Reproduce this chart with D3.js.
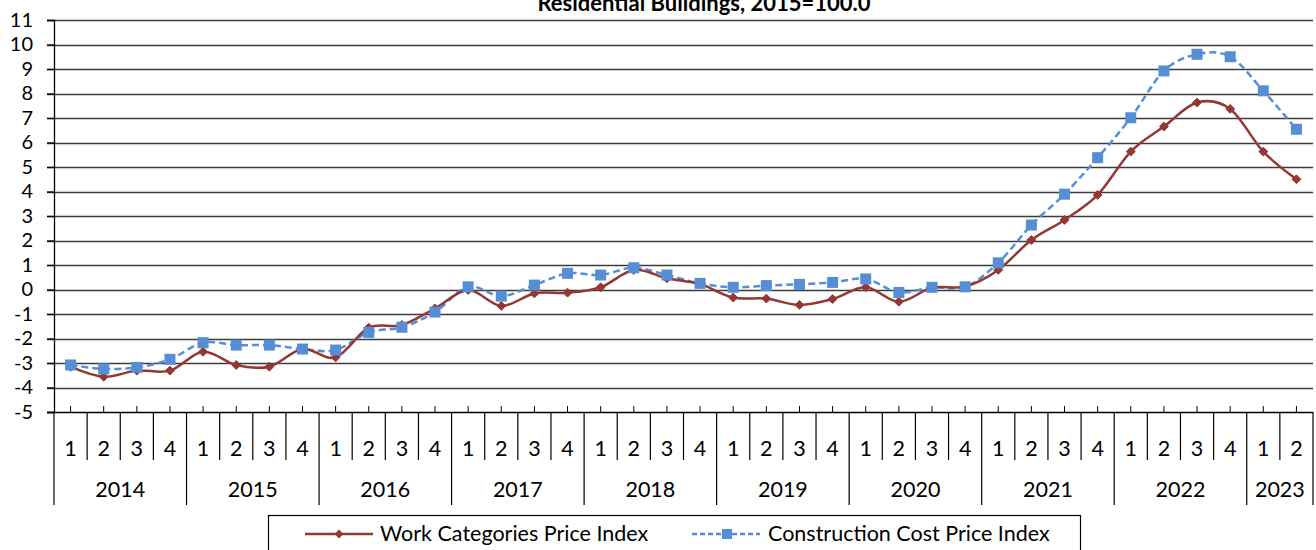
<head><meta charset="utf-8"></head>
<body style="margin:0;background:#fff">
<svg width="1316" height="550"></svg>
<script src="https://d3js.org/d3.v7.min.js"></script>
<script>
    // quarters 2014 Q1 .. 2023 Q2
    const years = ["2014", "2015", "2016", "2017", "2018", "2019", "2020", "2021", "2022", "2023"];
    const quartersPerYear = [4, 4, 4, 4, 4, 4, 4, 4, 4, 2];
    const workIndex = [-3.15, -3.56, -3.31, -3.31, -2.54, -3.08, -3.15, -2.43, -2.77, -1.56, -1.45, -0.77,
        -0.02, -0.67, -0.16, -0.13, 0.09, 0.80, 0.46, 0.22, -0.33, -0.37, -0.63, -0.39,
        0.09, -0.50, 0.07, 0.12, 0.80, 2.02, 2.84, 3.86, 5.63, 6.65, 7.63, 7.37, 5.63, 4.50];
    const costIndex = [-3.08, -3.24, -3.18, -2.85, -2.17, -2.27, -2.27, -2.43, -2.47, -1.75, -1.54, -0.92,
        0.11, -0.27, 0.18, 0.66, 0.59, 0.89, 0.59, 0.25, 0.09, 0.16, 0.21, 0.29,
        0.43, -0.12, 0.09, 0.11, 1.09, 2.63, 3.89, 5.38, 7.01, 8.92, 9.60, 9.50, 8.11, 6.54];
    const yTicks = d3.range(-5, 12);

    const font = "Lato, 'Liberation Sans', sans-serif";
    const fs = 21.5;
    const svg = d3.select("svg").style("font-family", font);
    const mLeft = 54, mRight = 1313, mTop = 20, mBottom = 412;

    // category list
    const cats = [];
    years.forEach((yr, yi) => {
        for (let q = 1; q <= quartersPerYear[yi]; q++) cats.push({ year: yr, q: q });
    });

    const x = d3.scaleBand().domain(d3.range(cats.length)).range([mLeft, mRight]);
    const y = d3.scaleLinear().domain([-5, 11]).range([mBottom, mTop]);

    // title (top line cut off like the original)
    svg.append("text")
        .attr("x", 704).attr("y", 11)
        .attr("text-anchor", "middle")
        .attr("font-weight", "bold")
        .attr("font-size", 22)
        .text("Residential Buildings, 2015=100.0");

    // grid lines
    svg.append("g").selectAll("line")
        .data(yTicks.filter(d => d > -5))
        .enter().append("line")
        .attr("x1", mLeft - 7).attr("x2", mRight)
        .attr("y1", d => Math.round(y(d)) + 0.5).attr("y2", d => Math.round(y(d)) + 0.5)
        .attr("stroke", "#3c3c3c").attr("stroke-width", 1.3);

    // y axis
    const yAxis = svg.append("g")
        .attr("transform", `translate(${mLeft},0)`)
        .call(d3.axisLeft(y).tickValues(yTicks).tickSize(7).tickPadding(14).tickFormat(d => String(d)));
    yAxis.select(".domain").attr("stroke", "#000").attr("stroke-width", 1.3);
    yAxis.selectAll(".tick line").attr("stroke", "#000").attr("stroke-width", 1.3);
    yAxis.selectAll("text").attr("font-size", 20).attr("font-family", font).attr("fill", "#000");

    // x axis line and category ticks
    const xa = svg.append("g");
    xa.append("line").attr("x1", mLeft - 7).attr("x2", mRight)
        .attr("y1", mBottom + 0.5).attr("y2", mBottom + 0.5)
        .attr("stroke", "#000").attr("stroke-width", 1.3);
    xa.selectAll(".ctick").data(cats).enter().append("line")
        .attr("x1", (d, i) => x(i) + x.bandwidth() / 2).attr("x2", (d, i) => x(i) + x.bandwidth() / 2)
        .attr("y1", mBottom - 6).attr("y2", mBottom)
        .attr("stroke", "#000").attr("stroke-width", 1);
    // quarter and year separators
    const starts = [];
    let acc = 0;
    quartersPerYear.forEach(n => { starts.push(acc); acc += n; });
    xa.selectAll(".qsep").data(d3.range(cats.length + 1)).enter().append("line")
        .attr("x1", i => i < cats.length ? x(i) : mRight).attr("x2", i => i < cats.length ? x(i) : mRight)
        .attr("y1", mBottom)
        .attr("y2", i => (starts.includes(i) || i === cats.length) ? 505 : 460)
        .attr("stroke", "#000").attr("stroke-width", 1.2);
    xa.selectAll(".qlab").data(cats).enter().append("text")
        .attr("x", (d, i) => x(i) + x.bandwidth() / 2).attr("y", 456)
        .attr("text-anchor", "middle").attr("font-size", fs)
        .text(d => d.q);
    xa.selectAll(".ylab").data(years).enter().append("text")
        .attr("x", (d, i) => (x(starts[i]) + (i + 1 < years.length ? x(starts[i + 1]) : mRight)) / 2)
        .attr("y", 497)
        .attr("text-anchor", "middle").attr("font-size", fs)
        .text(d => d);

    // series
    const red = "#953735", blue = "#558ED5";
    const line = d3.line()
        .x((d, i) => x(i) + x.bandwidth() / 2)
        .y(d => y(d))
        .curve(d3.curveCardinal.tension(0));

    svg.append("path").datum(costIndex)
        .attr("d", line).attr("fill", "none")
        .attr("stroke", blue).attr("stroke-width", 2.5).attr("stroke-dasharray", "7,4");
    svg.append("path").datum(workIndex)
        .attr("d", line).attr("fill", "none")
        .attr("stroke", red).attr("stroke-width", 2.5);

    const diamond = d3.symbol().type(d3.symbolDiamond2).size(50);
    svg.append("g").selectAll("path")
        .data(workIndex).enter().append("path")
        .attr("d", diamond)
        .attr("transform", (d, i) => `translate(${x(i) + x.bandwidth() / 2},${y(d)})`)
        .attr("fill", red).attr("stroke", red).attr("stroke-width", 1);
    svg.append("g").selectAll("rect")
        .data(costIndex).enter().append("rect")
        .attr("x", (d, i) => x(i) + x.bandwidth() / 2 - 5.5)
        .attr("y", d => y(d) - 5.5)
        .attr("width", 11).attr("height", 11)
        .attr("fill", blue);

    // legend
    const lg = svg.append("g");
    lg.append("rect").attr("x", 268.5).attr("y", 515.5).attr("width", 812).attr("height", 40)
        .attr("fill", "#fff").attr("stroke", "#000").attr("stroke-width", 1.2);
    lg.append("line").attr("x1", 305).attr("x2", 373).attr("y1", 534).attr("y2", 534)
        .attr("stroke", red).attr("stroke-width", 2.5);
    lg.append("path").attr("d", diamond).attr("transform", "translate(339,534)").attr("fill", red);
    lg.append("text").attr("x", 380).attr("y", 541).attr("font-size", fs).text("Work Categories Price Index");
    lg.append("line").attr("x1", 692).attr("x2", 760).attr("y1", 534).attr("y2", 534)
        .attr("stroke", blue).attr("stroke-width", 2.5).attr("stroke-dasharray", "5,3");
    lg.append("rect").attr("x", 722).attr("y", 529).attr("width", 10).attr("height", 10).attr("fill", blue);
    lg.append("text").attr("x", 768).attr("y", 541).attr("font-size", fs).text("Construction Cost Price Index");
</script>
</body>
